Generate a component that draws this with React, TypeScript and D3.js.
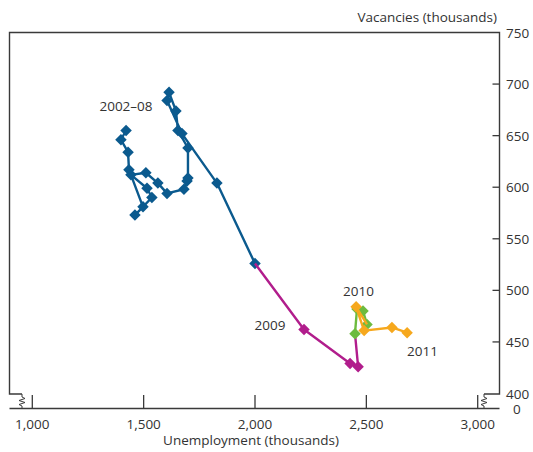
import React from "react";
import * as d3 from "d3";

type Pt = { u: number; v: number };

// Unemployment (thousands) and vacancies (thousands)
const blueU = [1421, 1398, 1430, 1434, 1497, 1461, 1537, 1515, 1443, 1510, 1564, 1605, 1681, 1695, 1699, 1699, 1654, 1645, 1614, 1605, 1672, 1829, 2000];
const blueV = [655, 646, 634, 617, 581, 573, 590, 599, 612, 614, 604, 594, 598, 606, 609, 638, 655, 674, 692, 684, 652, 604, 526];
const magU = [2220, 2427, 2463];
const magV = [462, 429, 426];
const greenU = [2449, 2458, 2485, 2503];
const greenV = [458, 482, 480, 467];
const orangeU = [2454, 2490, 2615, 2683];
const orangeV = [484, 461, 464, 459];

const xTicks = [1000, 1500, 2000, 2500, 3000];
const xTickLabels = ["1,000", "1,500", "2,000", "2,500", "3,000"];
const yTicks = [450, 500, 550, 600, 650, 700];
const yTickLabels = ["400", "450", "500", "550", "600", "650", "700", "750"];
const yLabelValues = [400, 450, 500, 550, 600, 650, 700, 750];

const zip = (us: number[], vs: number[]): Pt[] => us.map((u, i) => ({ u, v: vs[i] }));

const W = 533;
const H = 452;
const FONT = "'Open Sans', 'Noto Sans', sans-serif";
const TXT = "#333";
const FS = 13.5;

export default function App() {
  const x = d3.scaleLinear().domain([1000, 3000]).range([32.3, 477.7]);
  const y = d3.scaleLinear().domain([400, 750]).range([393.5, 32.5]);

  const blue = zip(blueU, blueV);
  const mag = zip(magU, magV);
  const green = zip(greenU, greenV);
  const orange = zip(orangeU, orangeV);

  const line = d3
    .line<Pt>()
    .x((d) => x(d.u))
    .y((d) => y(d.v));
  const diamond = d3.symbol().type(d3.symbolDiamond2).size(84)();

  const series = [
    { pts: blue, lineP: blue, color: "#0b5a8e" },
    { pts: mag, lineP: [blue[blue.length - 1], ...mag, green[0]], color: "#b11d8c" },
    { pts: green, lineP: green, color: "#6dbb3f" },
    { pts: orange, lineP: [green[green.length - 1], ...orange], color: "#f6a81d" },
  ];

  const xl = 9.5;
  const xr = 499.5;
  const yt = 32.5;
  const yb = 394;
  const ya = 408.5;
  const sq = (cx: number) =>
    `M${cx},${yb} L${cx},${yb + 3} L${cx + 3},${yb + 4.5} L${cx - 3},${yb + 6.5} L${cx + 3},${yb + 8.5} L${cx - 3},${yb + 10.5} L${cx},${yb + 12} L${cx},${ya}`;

  return (
    <svg
      width={W}
      height={H}
      style={{ position: "absolute", left: 0, top: 0, background: "#fff" }}
      fontFamily={FONT}
    >
      {/* frame */}
      <path
        d={`M22,${yb} H${xl} V${yt} H${xr} V${yb} H484`}
        fill="none"
        stroke="#3a3a3a"
        strokeWidth={1.4}
      />
      <path d={sq(22)} fill="none" stroke="#3a3a3a" strokeWidth={1} />
      <path d={sq(484)} fill="none" stroke="#3a3a3a" strokeWidth={1} />
      <line x1={xl} x2={xr} y1={ya} y2={ya} stroke="#3a3a3a" strokeWidth={1.4} />

      {/* x ticks */}
      {xTicks.map((t, i) => (
        <g key={t}>
          <line x1={x(t)} x2={x(t)} y1={395} y2={ya} stroke="#3a3a3a" strokeWidth={1.3} />
          <text x={x(t)} y={428.5} textAnchor="middle" fontSize={FS} fill={TXT}>
            {xTickLabels[i]}
          </text>
        </g>
      ))}
      <text x={251} y={445} textAnchor="middle" fontSize={FS} fill={TXT}>
        Unemployment (thousands)
      </text>

      {/* y ticks */}
      {yTicks.map((t) => (
        <line key={t} x1={xr - 7} x2={xr} y1={y(t)} y2={y(t)} stroke="#3a3a3a" strokeWidth={1.3} />
      ))}
      {yLabelValues.map((t, i) => (
        <text key={t} x={506} y={y(t) + 5} fontSize={FS} fill={TXT}>
          {yTickLabels[i]}
        </text>
      ))}
      <text x={513} y={ya + 5} fontSize={FS} fill={TXT}>
        0
      </text>
      <text x={497} y={22} textAnchor="end" fontSize={FS} fill={TXT}>
        Vacancies (thousands)
      </text>

      {/* series */}
      {series.map((s, i) => (
        <g key={i}>
          <path d={line(s.lineP) || ""} fill="none" stroke={s.color} strokeWidth={2.4} strokeLinejoin="round" />
          {s.pts.map((p, j) => (
            <path key={j} d={diamond || ""} transform={`translate(${x(p.u)},${y(p.v)})`} fill={s.color} />
          ))}
        </g>
      ))}

      {/* labels */}
      <text x={126} y={111} textAnchor="middle" fontSize={FS} fill={TXT}>
        2002–08
      </text>
      <text x={270} y={330} textAnchor="middle" fontSize={FS} fill={TXT}>
        2009
      </text>
      <text x={358.5} y={296} textAnchor="middle" fontSize={FS} fill={TXT}>
        2010
      </text>
      <text x={422.5} y={356} textAnchor="middle" fontSize={FS} fill={TXT}>
        2011
      </text>
    </svg>
  );
}
